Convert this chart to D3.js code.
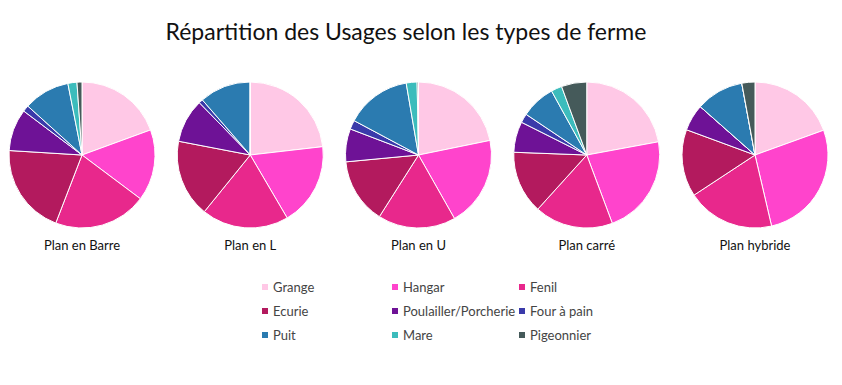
<!DOCTYPE html>
<html><head><meta charset="utf-8">
<script src="https://cdn.jsdelivr.net/npm/d3@7"></script>
<style>body{margin:0;background:#fff}svg{display:block}</style>
</head><body><svg id="c" width="842" height="385"></svg>
<script>
const categories = ["Grange","Hangar","Fenil","Ecurie","Poulailler/Porcherie","Four à pain","Puit","Mare","Pigeonnier"];
const colors = ["#ffc8e6","#ff44cc","#e8288c","#b31a5e","#6e1296","#3a3aaa","#2b7bb0","#3cbcbc","#455a5a"];
const farmTypes = ["Plan en Barre","Plan en L","Plan en U","Plan carré","Plan hybride"];
const planBarre  = [19.4,15.8,20.6,20.1,9.3,1.4,10.2,2.0,1.1];
const planL      = [23.2,18.4,19.3,17.2,9.7,0.9,11.4,0,0];
const planU      = [21.8,20.0,17.2,14.5,7.3,2.0,14.5,2.4,0.3];
const planCarre  = [22.1,22.2,17.4,13.9,6.8,2.0,7.6,2.4,5.6];
const planHybride= [19.5,26.9,19.4,14.9,5.9,0,10.6,0,2.9];
const series = [planBarre, planL, planU, planCarre, planHybride];
const title = "Répartition des Usages selon les types de ferme";

const svg = d3.select("#c");
const font = "Lato, 'Noto Sans', sans-serif";
svg.append("text").attr("x",406).attr("y",40).attr("text-anchor","middle")
  .style("font-family",font).style("font-size","23px").attr("fill","#111").text(title);

const xScale = d3.scalePoint().domain(farmTypes).range([82,755]);
const color = d3.scaleOrdinal().domain(categories).range(colors);
const pie = d3.pie().sort(null).value(d=>d.v);
const arc = d3.arc().innerRadius(0).outerRadius(73);

farmTypes.forEach((f,i)=>{
  const g = svg.append("g").attr("transform",`translate(${xScale(f)},155)`);
  const data = categories.map((c,j)=>({c, v: series[i][j]}));
  g.selectAll("path").data(pie(data)).enter().append("path")
    .attr("d",arc).attr("fill",d=>color(d.data.c))
    .attr("stroke","#fff").attr("stroke-width",1);
  g.append("text").attr("y",95).attr("text-anchor","middle")
    .style("font-family",font).style("font-size","13px").attr("fill","#111").text(f);
});

const colX = [262,392,519], rowY = [287,311,335];
const lg = svg.append("g");
categories.forEach((c,j)=>{
  const x = colX[j%3], y = rowY[Math.floor(j/3)];
  lg.append("rect").attr("x",x).attr("y",y-3).attr("width",6).attr("height",6).attr("fill",color(c));
  lg.append("text").attr("x",x+11).attr("y",y).attr("dy","0.35em")
    .style("font-family",font).style("font-size","13px").attr("fill","#444").text(c);
});
</script></body></html>
